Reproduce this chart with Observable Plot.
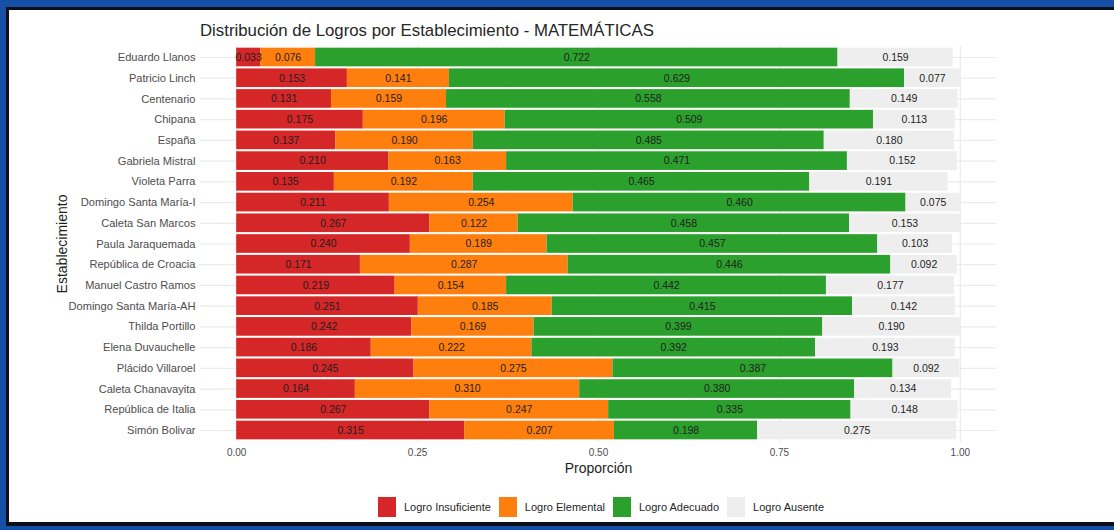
<!DOCTYPE html>
<html>
<head>
<meta charset="utf-8">
<script src="https://cdn.jsdelivr.net/npm/d3@7"></script>
<script src="https://cdn.jsdelivr.net/npm/@observablehq/plot@0.6"></script>
<style>
html, body { margin: 0; padding: 0; }
body { width: 1114px; height: 530px; background: #1550a6; position: relative; overflow: hidden;
  font-family: "Liberation Sans", Arial, sans-serif; }
#frame { position: absolute; left: 6px; top: 7px; width: 1108px; height: 519px; box-sizing: border-box;
  background: #fff; border-left: 3px solid #0b0f18; border-top: 3px solid #0b0f18; border-bottom: 4px solid #0b0f18; }
#title { position: absolute; left: 200px; top: 22px; font-size: 16.8px; line-height: 17px; color: #262626; white-space: nowrap; }
#chart { position: absolute; left: 0; top: 40px; }
#legend { position: absolute; left: 378px; top: 497px; display: flex; align-items: center; height: 20px; }
.key { width: 18px; height: 20px; }
.lab { font-size: 11px; color: #262626; margin-left: 8px; margin-right: 8px; line-height: 20px; white-space: nowrap; }
</style>
</head>
<body>
<div id="frame"></div>
<div id="title">Distribución de Logros por Establecimiento - MATEMÁTICAS</div>
<div id="chart"></div>
<div id="legend"></div>
<script>
const establecimientos = ["Eduardo Llanos","Patricio Linch","Centenario","Chipana","España","Gabriela Mistral","Violeta Parra","Domingo Santa María-I","Caleta San Marcos","Paula Jaraquemada","República de Croacia","Manuel Castro Ramos","Domingo Santa María-AH","Thilda Portillo","Elena Duvauchelle","Plácido Villaroel","Caleta Chanavayita","República de Italia","Simón Bolivar"];
const insuficiente = [0.033,0.153,0.131,0.175,0.137,0.210,0.135,0.211,0.267,0.240,0.171,0.219,0.251,0.242,0.186,0.245,0.164,0.267,0.315];
const elemental    = [0.076,0.141,0.159,0.196,0.190,0.163,0.192,0.254,0.122,0.189,0.287,0.154,0.185,0.169,0.222,0.275,0.310,0.247,0.207];
const adecuado     = [0.722,0.629,0.558,0.509,0.485,0.471,0.465,0.460,0.458,0.457,0.446,0.442,0.415,0.399,0.392,0.387,0.380,0.335,0.198];
const ausente      = [0.159,0.077,0.149,0.113,0.180,0.152,0.191,0.075,0.153,0.103,0.092,0.177,0.142,0.190,0.193,0.092,0.134,0.148,0.275];
const categorias = ["Logro Insuficiente","Logro Elemental","Logro Adecuado","Logro Ausente"];
const colores = ["#d62728","#ff7f0e","#2ca02c","#eeeeee"];
const xTicks = [0, 0.25, 0.5, 0.75, 1];
const xMinor = [0.125, 0.375, 0.625, 0.875];

const series = [insuficiente, elemental, adecuado, ausente];
const data = [];
establecimientos.forEach((e, i) => categorias.forEach((c, j) => data.push({est: e, cat: c, value: series[j][i]})));

const chart = Plot.plot({
  width: 1114, height: 440,
  marginLeft: 200, marginRight: 118, marginTop: 5.6, marginBottom: 38.6,
  style: {background: "transparent", fontFamily: "'Liberation Sans', Arial, sans-serif", overflow: "visible"},
  x: {domain: [-0.05, 1.05]},
  y: {domain: establecimientos, padding: 0.1, round: false},
  color: {domain: categorias, range: colores},
  marks: [
    Plot.gridX(xMinor, {stroke: "#ececec", strokeOpacity: 1, strokeWidth: 0.6}),
    Plot.gridX(xTicks, {stroke: "#ebebeb", strokeOpacity: 1, strokeWidth: 1.2}),
    Plot.gridY(establecimientos, {stroke: "#ebebeb", strokeOpacity: 1, strokeWidth: 1.2}),
    Plot.barX(data, Plot.stackX({x: "value", y: "est", fill: "cat"})),
    Plot.text(data, Plot.stackX({x: "value", y: "est", z: "cat", text: d => d.value.toFixed(3), fill: "#1e1e1e", fontSize: 10.5})),
    Plot.axisY({tickSize: 0, tickPadding: 5, fontSize: 11.1, color: "#4d4d4d", label: null}),
    Plot.axisX({ticks: xTicks, tickFormat: d3.format(".2f"), tickSize: 0, tickPadding: 7, fontSize: 10, color: "#4d4d4d", label: null}),
    Plot.text(["Proporción"], {frameAnchor: "bottom", dy: 27, lineAnchor: "middle", textAnchor: "middle", text: d => d, fontSize: 14, fill: "#1e1e1e"}),
    Plot.text(["Establecimiento"], {frameAnchor: "left", dx: -138, rotate: -90, textAnchor: "middle", lineAnchor: "middle", text: d => d, fontSize: 14, fill: "#1e1e1e"})
  ]
});
document.getElementById("chart").appendChild(chart);

const legend = document.getElementById("legend");
categorias.forEach((c, i) => {
  const k = document.createElement("div");
  k.className = "key";
  k.style.background = colores[i];
  const l = document.createElement("div");
  l.className = "lab";
  l.textContent = c;
  legend.appendChild(k);
  legend.appendChild(l);
});
</script>
</body>
</html>
